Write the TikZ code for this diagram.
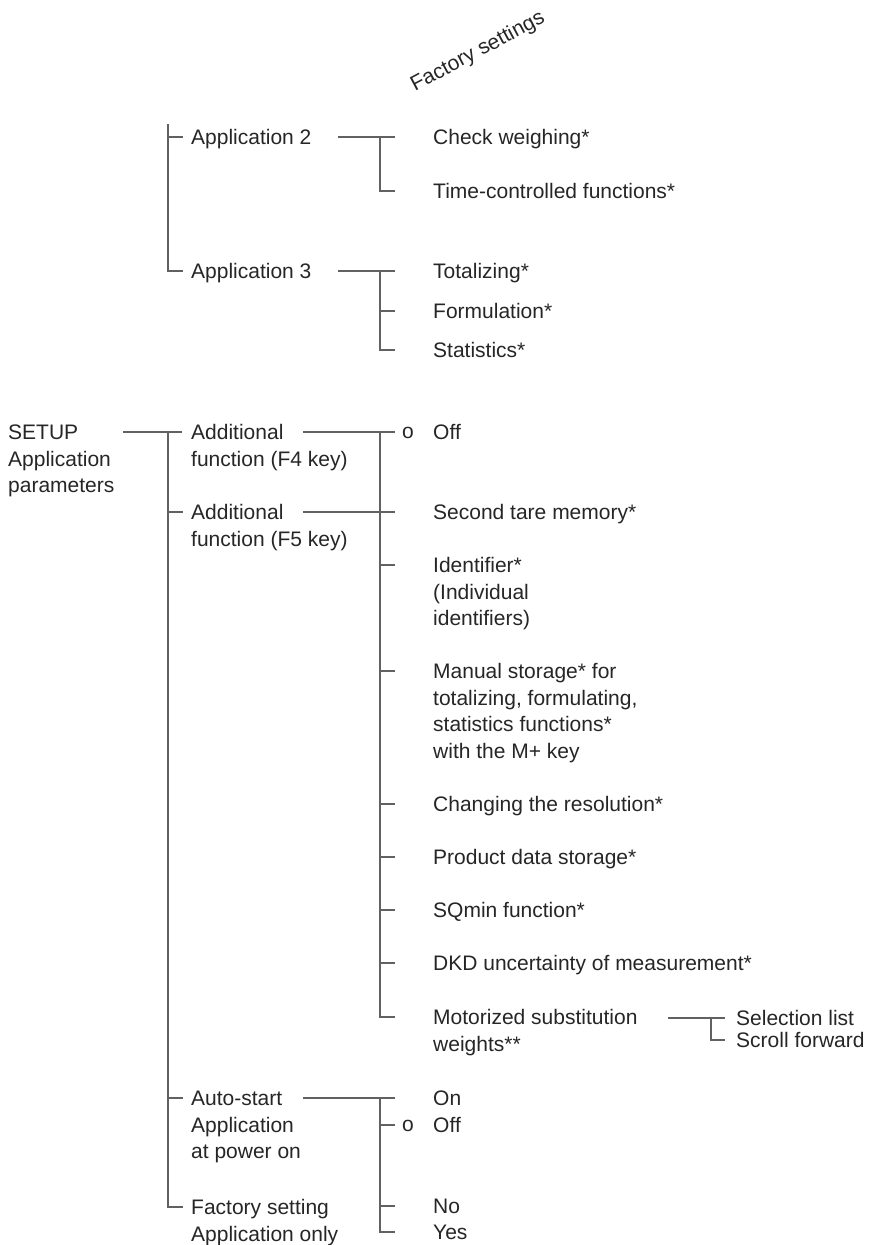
\documentclass[tikz,border=0pt]{standalone}
\usepackage{fontspec}
\setmainfont{Liberation Sans}
\begin{document}
\begin{tikzpicture}[x=1pt,y=-1pt,
  ln/.style={draw=black!62,line width=1.2pt},
  txt/.style={anchor=north west,inner sep=0pt,align=left,text=black!85,
    font=\fontsize{21}{26.5}\selectfont,yshift=11pt},
  dflt/.style={anchor=west,inner sep=0pt,text=black!85,
    font=\fontsize{21}{26.5}\selectfont,yshift=-1pt}]
\useasboundingbox (0,0) rectangle (872,1245);
\fill[white] (0,0) rectangle (872,1245);

% heading
\node[text=black!85,font=\fontsize{21}{26.5}\selectfont,rotate=28,inner sep=0pt] (fs) at (478,52) {Factory settings};

% ---------- top part ----------
\node[txt] (app2) at (191,137) {\strut Application 2};
\node[txt] (app3) at (191,271) {\strut Application 3};
\node[txt] (chk) at (433,137) {\strut Check weighing*};
\node[txt] (tcf) at (433,191) {\strut Time-controlled functions*};
\node[txt] (tot) at (433,271) {\strut Totalizing*};
\node[txt] (form) at (433,311) {\strut Formulation*};
\node[txt] (stat) at (433,350) {\strut Statistics*};

\coordinate (t0) at (168,124);
\coordinate (t1) at (168,137);
\coordinate (t2) at (168,271);
\draw[ln] (t0) -- (t2) -- ++(15,0);
\draw[ln] (t1) -- ++(15,0);

\coordinate (a2s) at (338,137);
\coordinate (a2j) at (380,137);
\draw[ln] (a2s) -- (395,137);
\draw[ln] (a2j) |- (395,191);

\coordinate (a3s) at (338,271);
\coordinate (a3j) at (380,271);
\draw[ln] (a3s) -- (395,271);
\draw[ln] (a3j) |- (395,350);
\draw[ln] (380,311) -- (395,311);

% ---------- lower part ----------
\node[txt] (setup) at (8,432) {\strut SETUP\\Application\\parameters};
\node[txt] (f4) at (191,432) {\strut Additional\\function (F4 key)};
\node[txt] (f5) at (191,512) {\strut Additional\\function (F5 key)};
\node[txt] (auto) at (191,1098) {\strut Auto-start\\Application\\at power on};
\node[txt] (fact) at (191,1207) {\strut Factory setting\\Application only};

\coordinate (s0) at (123,432);
\coordinate (s1) at (168,432);
\draw[ln] (s0) -- (182,432);
\draw[ln] (s1) -- (168,1207) -- (183,1207);
\draw[ln] (168,512) -- (183,512);
\draw[ln] (168,1098) -- (183,1098);

% F4 / F5 options
\node[dflt] (o1) at (402,432) {o};
\node[txt] (off1) at (433,432) {\strut Off};
\node[txt] (tare) at (433,512) {\strut Second tare memory*};
\node[txt] (ident) at (433,565) {\strut Identifier*\\(Individual\\identifiers)};
\node[txt] (man) at (433,671) {\strut Manual storage* for\\totalizing, formulating,\\statistics functions*\\with the M+ key};
\node[txt] (res) at (433,804) {\strut Changing the resolution*};
\node[txt] (prod) at (433,857) {\strut Product data storage*};
\node[txt] (sq) at (433,910) {\strut SQmin function*};
\node[txt] (dkd) at (433,963) {\strut DKD uncertainty of measurement*};
\node[txt] (mot) at (433,1017) {\strut Motorized substitution\\weights**};

\coordinate (f4s) at (303,432);
\coordinate (f4j) at (380,432);
\draw[ln] (f4s) -- (395,432);
\draw[ln] (f4j) |- (395,1017);
\coordinate (f5s) at (303,512);
\draw[ln] (f5s) -- (395,512);
\foreach \yy in {565,671,804,857,910,963}
  \draw[ln] (380,\yy) -- (395,\yy);

% motorized sub-options
\node[txt] (sel) at (736,1018) {\strut Selection list};
\node[txt] (scr) at (736,1040) {\strut Scroll forward};
\coordinate (ms) at (668,1018);
\coordinate (mj) at (711,1018);
\draw[ln] (ms) -- (725,1018);
\draw[ln] (mj) |- (725,1040);

% auto-start options
\node[txt] (on) at (433,1098) {\strut On};
\node[dflt] (o2) at (402,1125) {o};
\node[txt] (off2) at (433,1125) {\strut Off};
\node[txt] (no) at (433,1206) {\strut No};
\node[txt] (yes) at (433,1232) {\strut Yes};
\coordinate (as) at (303,1098);
\coordinate (aj) at (380,1098);
\draw[ln] (as) -- (395,1098);
\draw[ln] (aj) |- (395,1232);
\draw[ln] (380,1125) -- (395,1125);
\draw[ln] (380,1206) -- (395,1206);
\end{tikzpicture}
\end{document}
